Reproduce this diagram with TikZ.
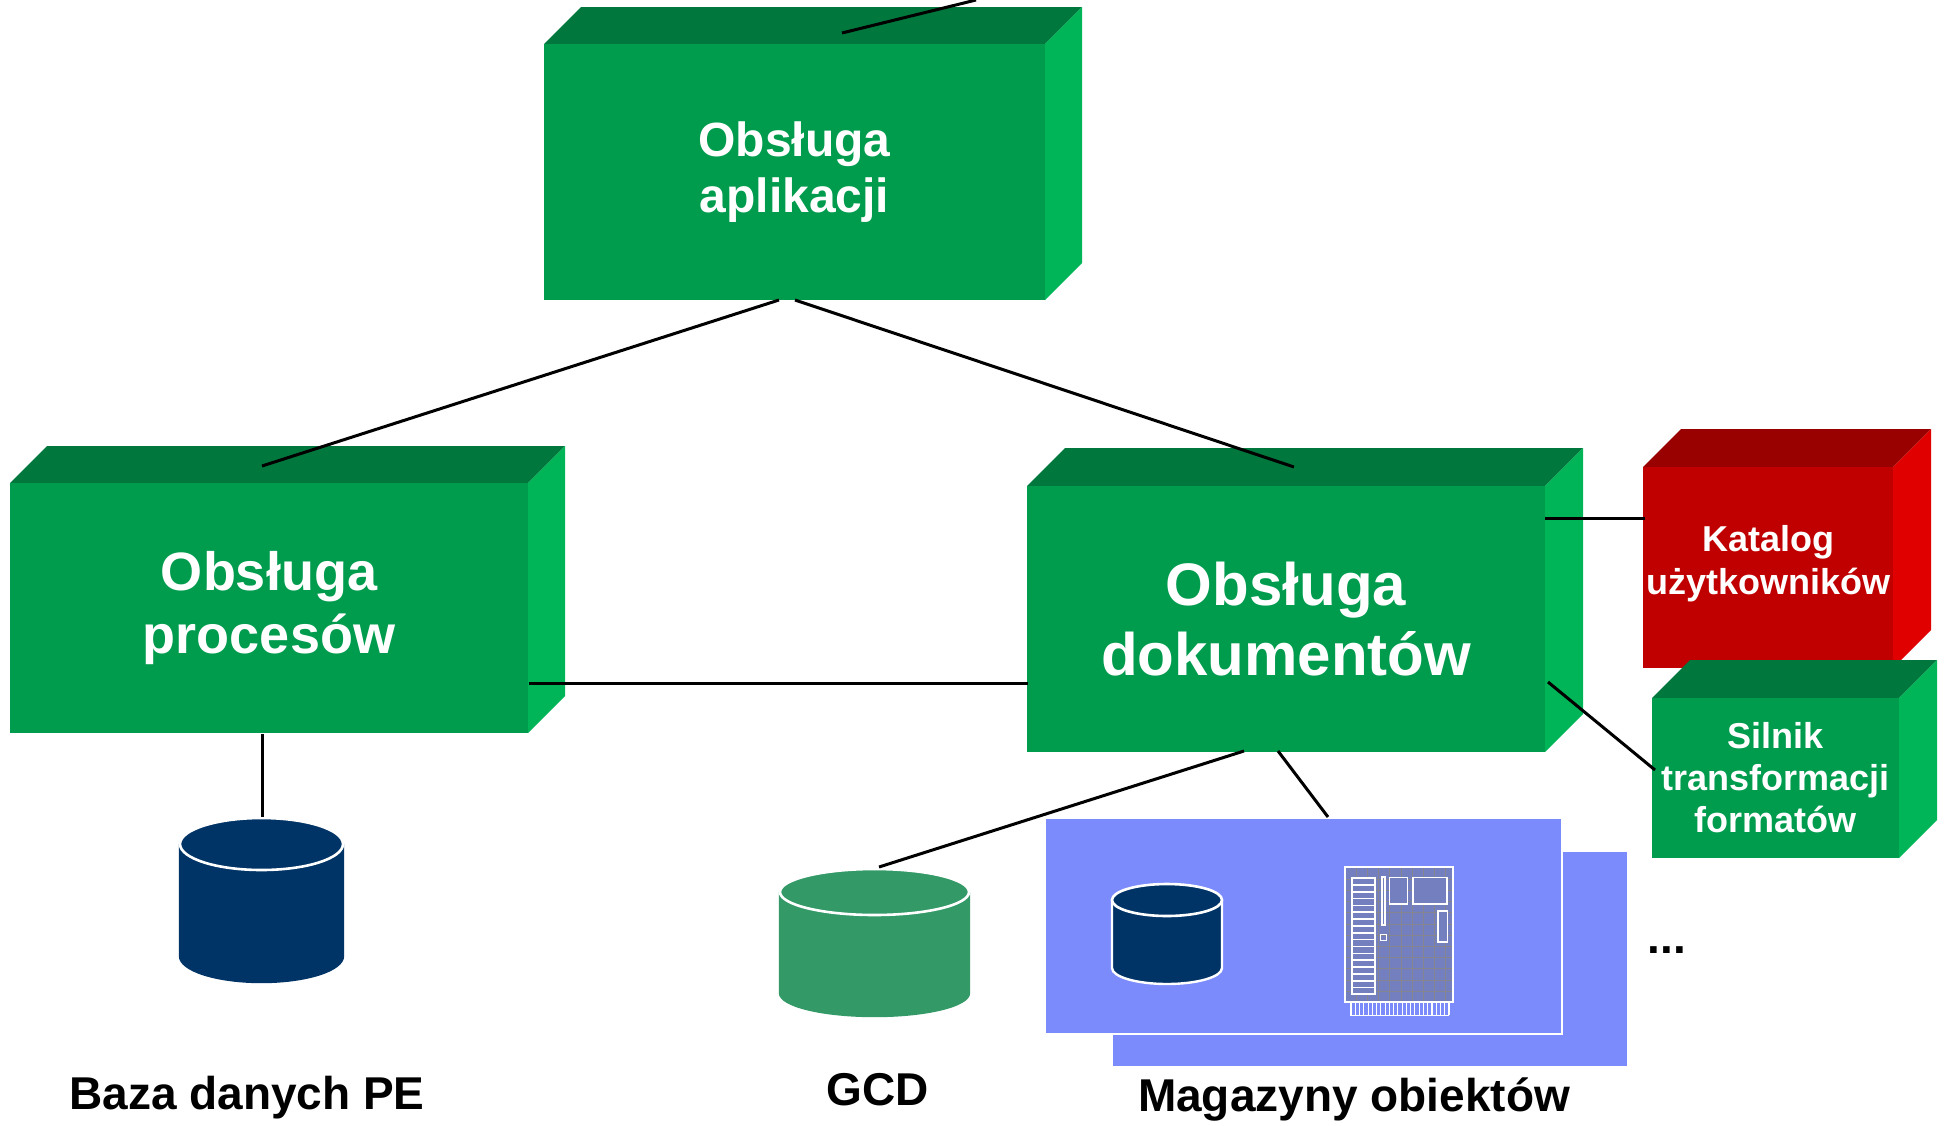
\documentclass[tikz,border=0pt]{standalone}
\usepackage{fontspec}
\setmainfont{Liberation Sans}
\definecolor{gfront}{HTML}{009C4E}
\definecolor{gtop}{HTML}{00773C}
\definecolor{gside}{HTML}{00B458}
\definecolor{rfront}{HTML}{C00000}
\definecolor{rtop}{HTML}{990000}
\definecolor{rside}{HTML}{E00000}
\definecolor{storeblue}{HTML}{7B8BFC}
\definecolor{navy}{HTML}{003366}
\definecolor{gcdgreen}{HTML}{339966}
\definecolor{chipfill}{HTML}{737FBE}
\definecolor{chipgrid}{HTML}{85858F}
\tikzset{
  front/.style={inner sep=0pt,align=center,text=white,font=\bfseries},
  link/.style={draw=black,line width=3pt},
  caption/.style={inner sep=0pt,text=black,font=\fontsize{46}{52}\bfseries\selectfont},
  chipline/.style={draw=white,line width=1.6pt},
}
% #1 name, #2 x1, #3 y1, #4 x2, #5 y2, #6 depth, #7 colour prefix, #8 font size, #9 line skip ; text follows
\newcommand{\cuboid}[9]{%
  \fill[#7top] (#2,#3) -- ++(#6,-#6) -- (#4+#6,#3-#6) -- (#4,#3) -- cycle;
  \fill[#7side] (#4,#3) -- (#4+#6,#3-#6) -- (#4+#6,#5-#6) -- (#4,#5) -- cycle;
  \node[front,fill=#7front,minimum width=#4pt-#2pt,minimum height=#5pt-#3pt,
        font=\fontsize{#8}{#9}\bfseries\selectfont] (#1) at ({(#2+#4)/2},{(#3+#5)/2})}
% #1 x1, #2 x2, #3 top of ellipse, #4 ellipse low point, #5 bottom, #6 fill, #7 outline
\newcommand{\cyl}[7]{%
  \pgfmathsetmacro{\cx}{(#1+#2)/2}\pgfmathsetmacro{\rx}{(#2-#1)/2}
  \pgfmathsetmacro{\ry}{(#4-#3)/2}\pgfmathsetmacro{\my}{(#3+#4)/2}
  \pgfmathsetmacro{\by}{#5-\ry}
  \path[fill=#6,draw=#7,line width=2.4pt,line join=round] (#1,\my) -- (#1,\by)
    .. controls (#1,\by+0.552*\ry) and (\cx-0.552*\rx,#5) .. (\cx,#5)
    .. controls (\cx+0.552*\rx,#5) and (#2,\by+0.552*\ry) .. (#2,\by) -- (#2,\my) -- cycle;
  \draw[fill=#6,draw=white,line width=2.6pt] (\cx,\my) ellipse ({\rx} and {\ry});
}
\begin{document}
\begin{tikzpicture}[x=1pt,y=-1pt]
\useasboundingbox (0,0) rectangle (1944,1125);

% storage panels
\fill[storeblue] (1113,852) rectangle (1627,1066);
\path[fill=storeblue] (1046,819) rectangle (1561,1033);
\draw[white,line width=2.4pt] (1046,1034) -- (1562,1034) -- (1562,819);

% cylinders
\cyl{180}{343}{818}{870}{982}{navy}{navy}
\cyl{780}{969}{869}{915}{1016}{gcdgreen}{gcdgreen}
\cyl{1112}{1222}{884}{916}{984}{navy}{white}

% chip
\fill[chipfill] (1345,867) rectangle (1453,1002);
\begin{scope}
  \clip (1345,867) rectangle (1453,1002);
  \foreach \gx in {1,...,9} \draw[chipgrid,line width=0.8pt] (1345+\gx*11.2,867) -- (1345+\gx*11.2,1002);
  \foreach \gy in {1,...,12} \draw[chipgrid,line width=0.8pt] (1345,868+\gy*11.2) -- (1453,868+\gy*11.2);
\end{scope}
\draw[chipline,line width=2pt] (1345,867) rectangle (1453,1002);
\fill[chipfill] (1352,878) rectangle (1375,994);
\draw[chipline] (1352,878) rectangle (1375,994);
\foreach \k in {1,...,16} \draw[chipline] (1352,878+\k*6.85) -- (1375,878+\k*6.85);
\draw[chipline] (1382,877) rectangle (1385,925);
\draw[chipline] (1380.5,934.5) rectangle (1386.5,940.5);
\draw[chipline,fill=chipfill] (1389.5,877.5) rectangle (1407.5,904);
\draw[chipline,fill=chipfill] (1413,877.5) rectangle (1447,904);
\draw[chipline,fill=chipfill] (1438,911) rectangle (1447.5,942);
\foreach \k in {0,...,23} \draw[white,line width=1.1pt] (1351+\k*4.26,1003) -- (1351+\k*4.26,1015);
\draw[white,line width=1pt] (1350,1015) -- (1449,1015);

% boxes
\cuboid{app}{544}{44}{1045}{300}{37}{g}{48}{56} {Obsługa\\aplikacji};
\cuboid{proc}{10}{483}{528}{733}{37}{g}{54}{63} {Obsługa\\procesów};
\cuboid{dok}{1027}{486}{1545}{752}{38}{g}{60}{70} {Obsługa\\dokumentów};
\cuboid{kat}{1643}{467}{1893}{668}{38}{r}{36}{43} {Katalog\\użytkowników\\[-27pt]{}};
\cuboid{sil}{1652}{698}{1899}{858}{38}{g}{36}{42} {Silnik\\transformacji\\formatów};

% connector ends
\coordinate (topfree) at (976,0);
\coordinate (apptop) at (842,33);
\coordinate (appL) at (779,300);
\coordinate (appR) at (795,300);
\coordinate (procT) at (262,466);
\coordinate (dokT) at (1294,467);
\coordinate (procB) at (262,734);
\coordinate (peDB) at (262,817);
\coordinate (procR) at (529,683);
\coordinate (dokL) at (1028,683);
\coordinate (dokB1) at (1244,751);
\coordinate (gcdT) at (879,867);
\coordinate (dokB2) at (1278,751);
\coordinate (storeT) at (1328,817);
\coordinate (dokR1) at (1545,518);
\coordinate (katL) at (1645,518);
\coordinate (dokR2) at (1548,682);
\coordinate (silL) at (1655,770);

\draw[link] (apptop) -- (topfree);
\draw[link] (appL) -- (procT);
\draw[link] (appR) -- (dokT);
\draw[link] (procB) -- (peDB);
\draw[link] (procR) -- (dokL);
\draw[link] (dokB1) -- (gcdT);
\draw[link] (dokB2) -- (storeT);
\draw[link] (dokR1) -- (katL);
\draw[link] (dokR2) -- (silL);

% captions
\node[caption] (capPE) at (247,1098) {Baza danych PE};
\node[caption] (capGCD) at (878,1090) {GCD};
\node[caption] (capMag) at (1354,1099) {Magazyny obiektów};
\node[caption] (dots) at (1667,950) {...};
\end{tikzpicture}
\end{document}
